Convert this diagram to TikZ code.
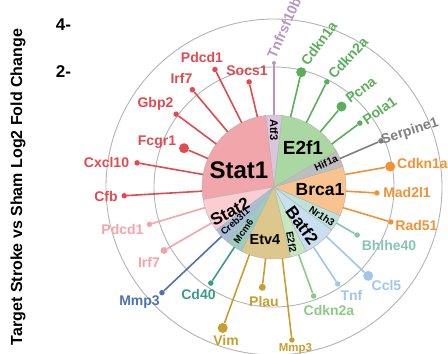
\documentclass[tikz,border=0pt]{standalone}
\usepackage{fontspec}
\setmainfont{Liberation Sans}

\definecolor{ringgray}{HTML}{B3B3B3}
\definecolor{stat1col}{HTML}{E04A50}
\definecolor{stat1pie}{HTML}{F0A6AB}
\definecolor{stat2col}{HTML}{F5A3AA}
\definecolor{stat2pie}{HTML}{FACDD0}
\definecolor{crebcol}{HTML}{4C72B0}
\definecolor{crebpie}{HTML}{A9BDD9}
\definecolor{mcmcol}{HTML}{3A9C88}
\definecolor{mcmpie}{HTML}{9ECBC0}
\definecolor{etvcol}{HTML}{C5A030}
\definecolor{etvpie}{HTML}{DCC78D}
\definecolor{e2f2col}{HTML}{8DCB84}
\definecolor{e2f2pie}{HTML}{C7E7C0}
\definecolor{batfcol}{HTML}{A0C6E8}
\definecolor{batfpie}{HTML}{CADEF1}
\definecolor{nrcol}{HTML}{86C5B5}
\definecolor{nrpie}{HTML}{BFE2D8}
\definecolor{brcacol}{HTML}{F39234}
\definecolor{brcapie}{HTML}{F9C38F}
\definecolor{hifcol}{HTML}{7F7F7F}
\definecolor{hifpie}{HTML}{BEBEBE}
\definecolor{e2f1col}{HTML}{5BAF5B}
\definecolor{e2f1pie}{HTML}{AAD7A2}
\definecolor{atfcol}{HTML}{B794C4}
\definecolor{atfpie}{HTML}{D9C5DD}

\begin{document}
\begin{tikzpicture}[
x=1pt, y=1pt,
ring/.style={draw=ringgray, line width=0.9pt},
wedge/.style={draw=gray!60, line width=0.4pt},
stem/.style={line width=1.6pt},
dot/.style={circle, inner sep=0pt, minimum size=5.5pt},
bigdot/.style={circle, inner sep=0pt, minimum size=10pt},
gene/.style={inner sep=0pt, font=\fontsize{14}{16}\selectfont\bfseries},
tf/.style={inner sep=0pt, font=\fontsize{17}{19}\selectfont\bfseries},
tfsmall/.style={inner sep=0pt, font=\fontsize{10}{12}\selectfont\bfseries},
axislabel/.style={inner sep=0pt, font=\fontsize{16}{18}\selectfont\bfseries}
]

\useasboundingbox (-274,-167) rectangle (174,187);

\coordinate (hub) at (0,0);

% axis
\node[axislabel, rotate=90] (ytitle) at (-256,0) {Target Stroke vs Sham Log2 Fold Change};
\node[axislabel, font=\fontsize{17}{19}\selectfont\bfseries] (tick4) at (-210.5,162) {4-};
\node[axislabel, font=\fontsize{17}{19}\selectfont\bfseries] (tick2) at (-210.5,115) {2-};

% rings
\draw[ring] (hub) circle[radius=120];
\draw[ring] (hub) circle[radius=168];

% pie of transcription factors
\filldraw[wedge, fill=atfpie] (hub) -- (83.33:72) arc[start angle=83.33, end angle=96.67, radius=72] -- cycle;
\filldraw[wedge, fill=stat1pie] (hub) -- (96.67:72) arc[start angle=96.67, end angle=190, radius=72] -- cycle;
\filldraw[wedge, fill=stat2pie] (hub) -- (190:72) arc[start angle=190, end angle=216.67, radius=72] -- cycle;
\filldraw[wedge, fill=crebpie] (hub) -- (216.67:72) arc[start angle=216.67, end angle=230, radius=72] -- cycle;
\filldraw[wedge, fill=mcmpie] (hub) -- (230:72) arc[start angle=230, end angle=243.33, radius=72] -- cycle;
\filldraw[wedge, fill=etvpie] (hub) -- (243.33:72) arc[start angle=243.33, end angle=283.33, radius=72] -- cycle;
\filldraw[wedge, fill=e2f2pie] (hub) -- (283.33:72) arc[start angle=283.33, end angle=296.67, radius=72] -- cycle;
\filldraw[wedge, fill=batfpie] (hub) -- (296.67:72) arc[start angle=296.67, end angle=323.33, radius=72] -- cycle;
\filldraw[wedge, fill=nrpie] (hub) -- (323.33:72) arc[start angle=323.33, end angle=336.67, radius=72] -- cycle;
\filldraw[wedge, fill=brcapie] (hub) -- (336.67:72) arc[start angle=336.67, end angle=376.67, radius=72] -- cycle;
\filldraw[wedge, fill=hifpie] (hub) -- (16.67:72) arc[start angle=16.67, end angle=30, radius=72] -- cycle;
\filldraw[wedge, fill=e2f1pie] (hub) -- (30:72) arc[start angle=30, end angle=83.33, radius=72] -- cycle;

\node[tf, font=\fontsize{24}{26}\selectfont\bfseries] (stat1) at (-35,17) {Stat1};
\node[tfsmall, font=\fontsize{11}{13}\selectfont\bfseries, rotate=-90] (atf3) at (0,57) {Atf3};
\node[tf, font=\fontsize{19}{21}\selectfont\bfseries] (e2f1) at (29,39) {E2f1};
\node[tfsmall, rotate=25] (hif1a) at (52,24) {Hif1a};
\node[tf, font=\fontsize{17.5}{19}\selectfont\bfseries] (brca1) at (46,-3) {Brca1};
\node[tfsmall, rotate=-34] (nr1h3) at (48,-29) {Nr1h3};
\node[tf, rotate=-54] (batf2) at (28,-38) {Batf2};
\node[tfsmall, rotate=-80] (e2f2) at (17.5,-55) {E2f2};
\node[tf, font=\fontsize{14.5}{16}\selectfont\bfseries] (etv4) at (-9,-53) {Etv4};
\node[tfsmall, font=\fontsize{9.5}{11}\selectfont\bfseries, rotate=55] (mcm6) at (-30.5,-44.5) {Mcm6};
\node[tfsmall, font=\fontsize{9.5}{11}\selectfont\bfseries, rotate=42] (creb3l1) at (-39,-34.5) {Creb3l1};
\node[tf, rotate=28] (stat2) at (-44,-25) {Stat2};

% Atf3 target
\coordinate (tnfrsf10b-s) at (90:72);
\node[dot, fill=atfcol, minimum size=4pt] (tnfrsf10b) at (90:124) {};
\draw[stem, atfcol] (tnfrsf10b-s) -- (tnfrsf10b);
\node[gene, text=atfcol, rotate=66] (tnfrsf10b-l) at (10,159) {Tnfrsf10b};

% Stat1 targets
\coordinate (socs1-s) at (103.33:72);
\node[dot, fill=stat1col] (socs1) at (103.33:108) {};
\draw[stem, stat1col] (socs1-s) -- (socs1);
\node[gene, text=stat1col] (socs1-l) at (-27,116) {Socs1};

\coordinate (pdcd1-s) at (116.67:72);
\node[dot, fill=stat1col] (pdcd1) at (116.67:131.5) {};
\draw[stem, stat1col] (pdcd1-s) -- (pdcd1);
\node[gene, text=stat1col] (pdcd1-l) at (-72,130) {Pdcd1};

\coordinate (irf7-s) at (130:72);
\node[dot, fill=stat1col] (irf7) at (130:127) {};
\draw[stem, stat1col] (irf7-s) -- (irf7);
\node[gene, text=stat1col] (irf7-l) at (-92.5,109) {Irf7};

\coordinate (gbp2-s) at (143.33:72);
\node[dot, fill=stat1col] (gbp2) at (143.33:122) {};
\draw[stem, stat1col] (gbp2-s) -- (gbp2);
\node[gene, text=stat1col] (gbp2-l) at (-118.5,83) {Gbp2};

\coordinate (fcgr1-s) at (156.67:72);
\node[bigdot, fill=stat1col] (fcgr1) at (156.67:98) {};
\draw[stem, stat1col] (fcgr1-s) -- (fcgr1);
\node[gene, text=stat1col] (fcgr1-l) at (-117,45) {Fcgr1};

\coordinate (cxcl10-s) at (170:72);
\node[dot, fill=stat1col] (cxcl10) at (170:139) {};
\draw[stem, stat1col] (cxcl10-s) -- (cxcl10);
\node[gene, text=stat1col] (cxcl10-l) at (-167.5,25) {Cxcl10};

\coordinate (cfb-s) at (183.33:72);
\node[dot, fill=stat1col] (cfb) at (183.33:150) {};
\draw[stem, stat1col] (cfb-s) -- (cfb);
\node[gene, text=stat1col] (cfb-l) at (-168,-9) {Cfb};

% Stat2 targets
\coordinate (pdcd1b-s) at (196.67:72);
\node[dot, fill=stat2col] (pdcd1b) at (196.67:130) {};
\draw[stem, stat2col] (pdcd1b-s) -- (pdcd1b);
\node[gene, text=stat2col] (pdcd1b-l) at (-151.5,-42) {Pdcd1};

\coordinate (irf7b-s) at (210:72);
\node[dot, fill=stat2col, minimum size=7pt] (irf7b) at (210:127) {};
\draw[stem, stat2col] (irf7b-s) -- (irf7b);
\node[gene, text=stat2col] (irf7b-l) at (-125,-75) {Irf7};

% Creb3l1 and Mcm6 targets
\coordinate (mmp3a-s) at (223.33:72);
\node[dot, fill=crebcol] (mmp3a) at (223.33:154) {};
\draw[stem, crebcol] (mmp3a-s) -- (mmp3a);
\node[gene, text=crebcol] (mmp3a-l) at (-134.5,-115) {Mmp3};

\coordinate (cd40-s) at (236.67:72);
\node[dot, fill=mcmcol] (cd40) at (236.67:115) {};
\draw[stem, mcmcol] (cd40-s) -- (cd40);
\node[gene, text=mcmcol] (cd40-l) at (-75.5,-107) {Cd40};

% Etv4 targets
\coordinate (vim-s) at (250:72);
\node[bigdot, fill=etvcol] (vim) at (250:150) {};
\draw[stem, etvcol] (vim-s) -- (vim);
\node[gene, text=etvcol] (vim-l) at (-48,-153) {Vim};

\coordinate (plau-s) at (263.33:72);
\node[dot, fill=etvcol, minimum size=7pt] (plau) at (263.33:101) {};
\draw[stem, etvcol] (plau-s) -- (plau);
\node[gene, text=etvcol] (plau-l) at (-10,-114) {Plau};

\coordinate (mmp3b-s) at (276.67:72);
\node[dot, fill=etvcol] (mmp3b) at (276.67:154) {};
\draw[stem, etvcol] (mmp3b-s) -- (mmp3b);
\node[gene, text=etvcol, font=\fontsize{11.5}{13}\selectfont\bfseries] (mmp3b-l) at (21.5,-162) {Mmp3};

% E2f2 and Batf2 targets
\coordinate (cdkn2ab-s) at (290:72);
\node[dot, fill=e2f2col] (cdkn2ab) at (290:116) {};
\draw[stem, e2f2col] (cdkn2ab-s) -- (cdkn2ab);
\node[gene, text=e2f2col] (cdkn2ab-l) at (55,-123) {Cdkn2a};

\coordinate (tnf-s) at (303.33:72);
\node[dot, fill=batfcol] (tnf) at (303.33:116) {};
\draw[stem, batfcol] (tnf-s) -- (tnf);
\node[gene, text=batfcol] (tnf-l) at (77.5,-108) {Tnf};

\coordinate (ccl5-s) at (316.67:72);
\node[bigdot, fill=batfcol] (ccl5) at (316.67:129.5) {};
\draw[stem, batfcol] (ccl5-s) -- (ccl5);
\node[gene, text=batfcol] (ccl5-l) at (112.5,-98) {Ccl5};

% Nr1h3 target
\coordinate (bhlhe40-s) at (330:72);
\node[dot, fill=nrcol] (bhlhe40) at (330:96) {};
\draw[stem, nrcol] (bhlhe40-s) -- (bhlhe40);
\node[gene, text=nrcol] (bhlhe40-l) at (115,-58) {Bhlhe40};

% Brca1 targets
\coordinate (rad51-s) at (343.33:72);
\node[dot, fill=brcacol] (rad51) at (343.33:122) {};
\draw[stem, brcacol] (rad51-s) -- (rad51);
\node[gene, text=brcacol] (rad51-l) at (142.5,-38) {Rad51};

\coordinate (mad2l1-s) at (356.67:72);
\node[dot, fill=brcacol] (mad2l1) at (356.67:103) {};
\draw[stem, brcacol] (mad2l1-s) -- (mad2l1);
\node[gene, text=brcacol] (mad2l1-l) at (133,-5) {Mad2l1};

\coordinate (cdkn1ab-s) at (10:72);
\node[bigdot, fill=brcacol] (cdkn1ab) at (10:118) {};
\draw[stem, brcacol] (cdkn1ab-s) -- (cdkn1ab);
\node[gene, text=brcacol] (cdkn1ab-l) at (148.5,24) {Cdkn1a};

% Hif1a target
\coordinate (serpine1-s) at (23.33:72);
\node[dot, fill=hifcol] (serpine1) at (23.33:116.5) {};
\draw[stem, hifcol] (serpine1-s) -- (serpine1);
\node[gene, text=hifcol, rotate=18] (serpine1-l) at (136,55.5) {Serpine1};

% E2f1 targets
\coordinate (pola1-s) at (36.67:72);
\node[dot, fill=e2f1col] (pola1) at (36.67:107) {};
\draw[stem, e2f1col] (pola1-s) -- (pola1);
\node[gene, text=e2f1col, rotate=35] (pola1-l) at (105.5,76.5) {Pola1};

\coordinate (pcna-s) at (50:72);
\node[bigdot, fill=e2f1col] (pcna) at (50:105) {};
\draw[stem, e2f1col] (pcna-s) -- (pcna);
\node[gene, text=e2f1col, rotate=37] (pcna-l) at (87,97) {Pcna};

\coordinate (cdkn2a-s) at (63.33:72);
\node[dot, fill=e2f1col] (cdkn2a) at (63.33:117.6) {};
\draw[stem, e2f1col] (cdkn2a-s) -- (cdkn2a);
\node[gene, text=e2f1col, rotate=47] (cdkn2a-l) at (74,129) {Cdkn2a};

\coordinate (cdkn1a-s) at (76.67:72);
\node[bigdot, fill=e2f1col] (cdkn1a) at (76.67:118) {};
\draw[stem, e2f1col] (cdkn1a-s) -- (cdkn1a);
\node[gene, text=e2f1col, rotate=54] (cdkn1a-l) at (45,143.5) {Cdkn1a};

\end{tikzpicture}
\end{document}
